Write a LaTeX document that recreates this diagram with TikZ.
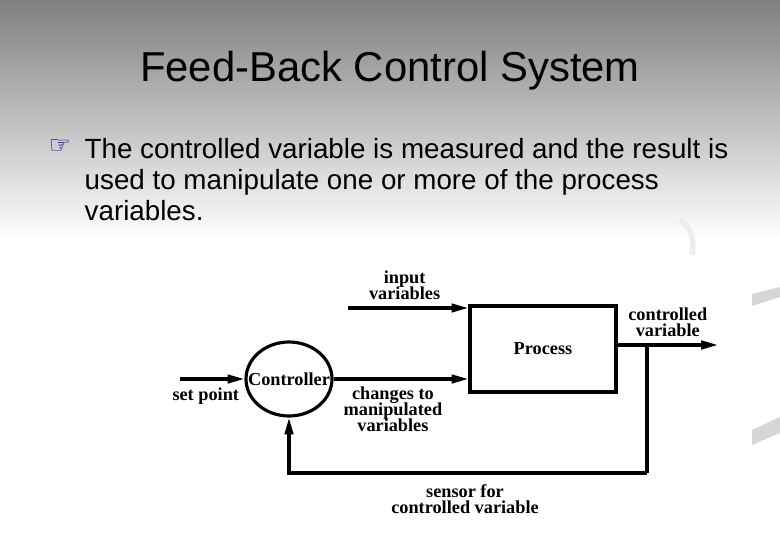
\documentclass[tikz,border=0pt]{standalone}
\usepackage{fontspec}
\setmainfont{Liberation Sans}
\newfontfamily\diagfont{Liberation Serif}
\newfontfamily\symfont{DejaVu Sans}
\usepackage{tikz}
\usetikzlibrary{shapes.geometric, arrows.meta}
\usetikzlibrary{positioning}
\usetikzlibrary{calc}
\newcommand{\diagtext}{\diagfont\bfseries\fontsize{5.2}{4.6}\selectfont\lineskiplimit=-6pt}
\tikzset{
box/.style={
	rectangle,
	minimum width=1.46cm,
	minimum height=0.86cm,
	text centered,
	draw=black,
	line width=0.9pt,
	fill=white,
	inner sep=0pt,
	font=\diagtext
},
ctrlbox/.style={
	ellipse,
	minimum width=0.86cm,
	minimum height=0.74cm,
	text centered,
	draw=black,
	line width=0.9pt,
	fill=white,
	inner sep=0pt,
	font=\diagtext
},
lbl/.style={
	align=center,
	inner sep=0pt,
	font=\diagtext
},
arrow/.style={
	-{Triangle[length=4.8pt,width=2.4pt]},
	draw=black,
	line width=0.9pt
},
band/.style={
	fill=black!16,
	draw=none
}
}

\begin{document}
\begin{tikzpicture}

\useasboundingbox (0,0) rectangle (7.8,5.4);
\fill [white] (0,0) rectangle (7.8,5.4);
\shade [top color=black!50, middle color=black!14, bottom color=white] (0,3.0) rectangle (7.8,5.4);

% template swooshes
\draw [black!7, line width=1.5pt] (6.80,3.20) .. controls (6.94,3.10) and (6.94,2.95) .. (6.92,2.85);
\fill [band] (7.52,2.46) -- (7.80,2.53) -- (7.80,2.43) -- (7.52,2.34) -- cycle;
\fill [band] (7.52,1.10) -- (7.80,1.23) -- (7.80,1.07) -- (7.52,0.95) -- cycle;

% slide text
\node (title) [anchor=base, font=\fontsize{11.9}{14}\selectfont] at (3.9,4.58) {Feed-Back Control System};
\node (hand) [font=\symfont\fontsize{7}{8}\selectfont, text=blue!55!black, inner sep=0pt] at (0.60,3.93) {☞};
\node (bullet) [anchor=base west, align=left, inner sep=0pt, font=\fontsize{7.9}{8.9}\selectfont] at (0.84,3.19)
	{The controlled variable is measured and the result is\\used to manipulate one or more of the process\\variables.};

% diagram
\node (ctrl) [ctrlbox] at (2.89,1.61) {\makebox[0pt][c]{Controller}};
\node (proc) [box] at (5.43,1.91) {Process};

\coordinate (sp) at (1.80,1.61);
\coordinate (inp) at (3.48,2.32);
\coordinate (tap) at (6.47,1.95);
\coordinate (out) at (7.18,1.95);
\coordinate (fb) at (6.47,0.67);

\draw [arrow] (sp) -- node[pos=0.4, below=2pt, lbl] (lblsp) {set point} (ctrl.west);
\draw [arrow] (ctrl.east) -- node[pos=0.44, below=1.8pt, lbl] (lblman) {changes to\\manipulated\\variables} (ctrl.east -| proc.west);
\draw [arrow] (inp) -- node[pos=0.47, above=2pt, lbl] (lblin) {input\\variables} (inp -| proc.west);
\draw [arrow] (proc.east |- out) -- node[midway, above=2pt, lbl] (lblout) {controlled\\variable} (out);
\draw [line width=0.9pt] (tap) -- (fb);
\draw [arrow] (fb) -| (ctrl.south);
\node (lblsens) [lbl, below=3pt] at (4.65,0.67) {sensor for\\controlled variable};

\end{tikzpicture}
\end{document}
